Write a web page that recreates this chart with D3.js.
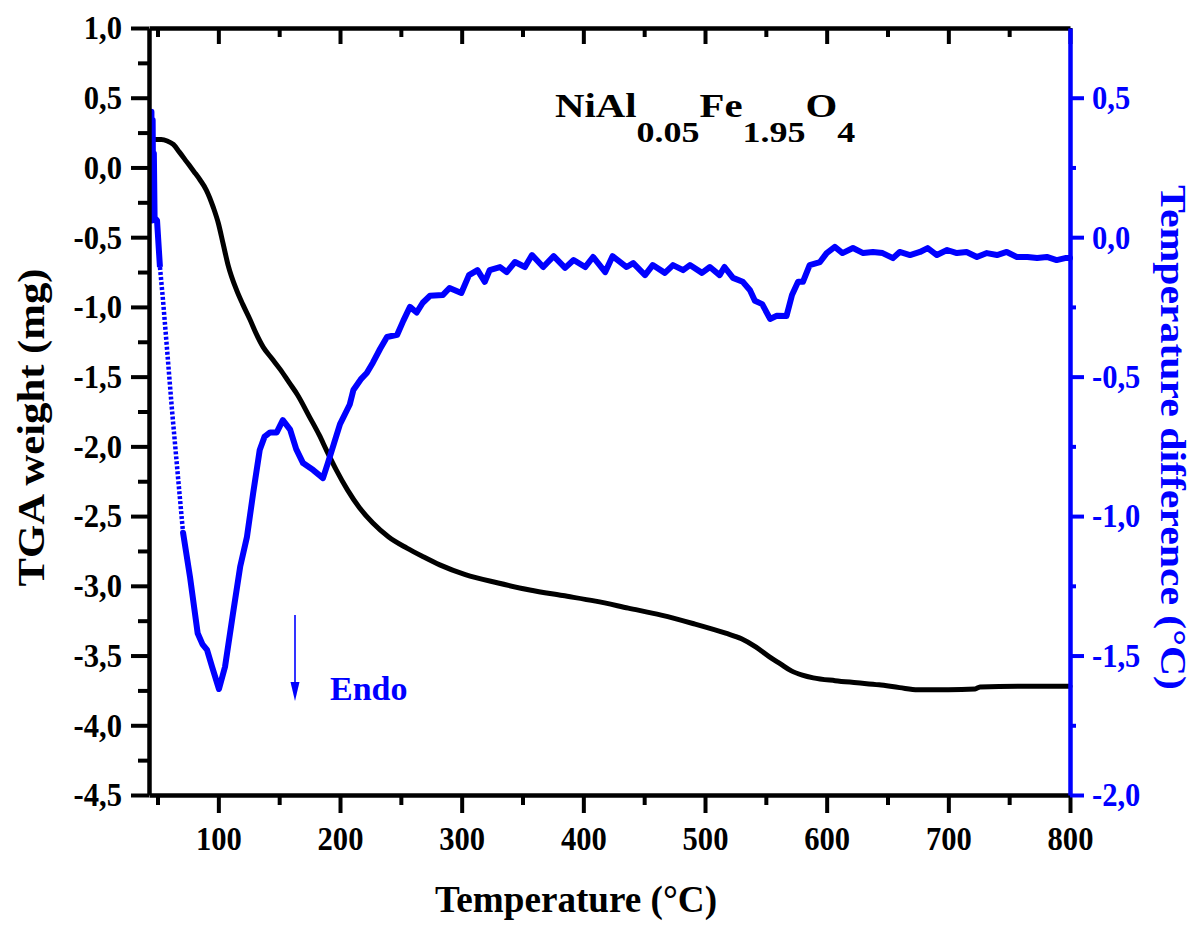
<!DOCTYPE html>
<html><head><meta charset="utf-8">
<script src="https://cdn.jsdelivr.net/npm/d3@7"></script>
<style>body{margin:0;background:#fff} svg{display:block}</style>
</head><body><svg id="c" width="1196" height="925"></svg>
<script>
// ---- data ----
const tgaTemp   = [48,53,58,63,68,74,80,85,90,96,100,104,108,115,120,126,131,137,144,151,158,165,175,183,189,197,206,216,227,240,255,268,282,303,330,356,383,410,437,464,490,517,530,542,553,562,571,580,589,607,625,643,660,675,700,722,726,760,800];
const tgaWeight = [0.20,0.20,0.19,0.165,0.11,0.04,-0.03,-0.09,-0.16,-0.29,-0.40,-0.55,-0.70,-0.88,-0.98,-1.09,-1.19,-1.29,-1.37,-1.45,-1.54,-1.63,-1.79,-1.92,-2.03,-2.17,-2.31,-2.44,-2.55,-2.65,-2.73,-2.79,-2.85,-2.92,-2.98,-3.03,-3.07,-3.11,-3.16,-3.21,-3.27,-3.34,-3.38,-3.44,-3.51,-3.56,-3.61,-3.64,-3.66,-3.68,-3.695,-3.71,-3.73,-3.745,-3.745,-3.74,-3.725,-3.72,-3.72];

const dtaTemp = [44.5,45.0,45.5,46.0,46.5,47.0,47.6,49.6,52,54.5,57.8,61.9,66,71,76.7,83,87,90.7,94.8,100.5,105.5,112,118,123.5,128.6,134,138,142.5,148,153,159,164,169.6,178,186,190,195,200,208,211,217,222,227,233,238.6,247,252,257.5,263,268,274,284.6,290,299.7,306,313,319,323,331.5,337,343.8,352,357.8,367,375.6,385,392,401.5,408,418,424,435.6,441,450.7,457,467,473.7,482,487.6,497.5,504,512,516,523,531,537,541,547,553.5,559,567,571.5,576.5,580.5,586,594.5,600,606.7,613,621.6,630,638,646,654.5,660,668.5,676.7,683,690.6,699,707,715,723.5,731.7,740,748,756.4,765,773,781,789,796,800];
const dtaDiff = [0.12,0.45,0.06,0.42,0.08,0.30,0.07,0.06,-0.107,-0.225,-0.40,-0.62,-0.82,-1.06,-1.218,-1.42,-1.46,-1.48,-1.54,-1.62,-1.54,-1.35,-1.18,-1.075,-0.918,-0.763,-0.715,-0.70,-0.70,-0.656,-0.69,-0.76,-0.81,-0.835,-0.864,-0.81,-0.74,-0.67,-0.60,-0.548,-0.51,-0.487,-0.45,-0.40,-0.358,-0.35,-0.30,-0.25,-0.27,-0.235,-0.21,-0.207,-0.182,-0.20,-0.136,-0.118,-0.16,-0.118,-0.107,-0.125,-0.089,-0.107,-0.064,-0.107,-0.068,-0.11,-0.082,-0.107,-0.071,-0.125,-0.068,-0.107,-0.093,-0.136,-0.10,-0.128,-0.10,-0.118,-0.10,-0.128,-0.107,-0.136,-0.107,-0.146,-0.16,-0.19,-0.228,-0.24,-0.293,-0.282,-0.283,-0.207,-0.16,-0.16,-0.10,-0.089,-0.057,-0.035,-0.057,-0.039,-0.057,-0.053,-0.057,-0.075,-0.053,-0.064,-0.053,-0.039,-0.064,-0.046,-0.057,-0.053,-0.071,-0.057,-0.064,-0.053,-0.071,-0.071,-0.075,-0.071,-0.082,-0.075,-0.075];

const xMajor = [100,200,300,400,500,600,700,800];
const xMinor = [50,150,250,350,450,550,650,750];
const leftMajor = [-4.5,-4.0,-3.5,-3.0,-2.5,-2.0,-1.5,-1.0,-0.5,0.0,0.5,1.0];
const leftMinor = [-4.25,-3.75,-3.25,-2.75,-2.25,-1.75,-1.25,-0.75,-0.25,0.25,0.75];
const rightMajor = [-2.0,-1.5,-1.0,-0.5,0.0,0.5];
const rightMinor = [-1.75,-1.25,-0.75,-0.25,0.25];

const xLabel = "Temperature (°C)";
const leftLabel = "TGA weight (mg)";
const rightLabel = "Temperature difference (°C)";
const endoLabel = "Endo";
const dashedRange = [52, 71]; // sparse-sampled fast drop drawn as dots

// ---- layout ----
const L = 149, R = 1070, T = 28, B = 795;
const BLUE = "#0000ff";
const FONT = "'Liberation Serif','Times New Roman',serif";
const svg = d3.select("#c");

const x = d3.scaleLinear().domain([43, 800]).range([L, R]);
const yL = d3.scaleLinear().domain([-4.5, 1.0]).range([B, T]);
const yR = d3.scaleLinear().domain([-2.0, 0.75]).range([B, T]);

const loc = d3.formatLocale({decimal: ",", thousands: " ", grouping: [3], currency: ["", ""], minus: "-"});
const f1 = loc.format(".1f");

// ---- curves ----
const tga = tgaTemp.map((t, i) => [t, tgaWeight[i]]);
const dta = dtaTemp.map((t, i) => [t, dtaDiff[i]]);

svg.append("path").datum(tga)
  .attr("fill", "none").attr("stroke", "#000").attr("stroke-width", 5)
  .attr("stroke-linejoin", "round").attr("stroke-linecap", "round")
  .attr("d", d3.line().x(d => x(d[0])).y(d => yL(d[1])).curve(d3.curveMonotoneX));

const dtaLine = d3.line().x(d => x(d[0])).y(d => yR(d[1]));
const part1 = dta.filter(d => d[0] <= dashedRange[0]);
const part2 = dta.filter(d => d[0] >= dashedRange[0] && d[0] <= dashedRange[1]);
const part3 = dta.filter(d => d[0] >= dashedRange[1]);
svg.append("path").datum(part1).attr("fill", "none").attr("stroke", BLUE)
  .attr("stroke-width", 6).attr("stroke-linejoin", "round").attr("d", dtaLine);
svg.append("path").datum(part2).attr("fill", "none").attr("stroke", BLUE)
  .attr("stroke-width", 4.5).attr("stroke-dasharray", "3,2").attr("d", dtaLine);
svg.append("path").datum(part3).attr("fill", "none").attr("stroke", BLUE)
  .attr("stroke-width", 6).attr("stroke-linejoin", "round").attr("stroke-linecap", "round").attr("d", dtaLine);

// ---- axes ----
function squeeze(g, k) {
  g.selectAll(".tick text").each(function () {
    const t = d3.select(this);
    const xx = +t.attr("x") || 0;
    t.attr("x", xx / k).attr("transform", `scale(${k},1)`);
  });
}
function style(g, color, w, fs) {
  g.select(".domain").attr("stroke", color).attr("stroke-width", 4.5);
  g.selectAll(".tick line").attr("stroke", color).attr("stroke-width", w);
  g.selectAll(".tick text").attr("fill", color)
    .style("font-family", FONT).style("font-weight", "bold").style("font-size", fs + "px");
}
function minorAxis(axis, tr, color, w) {
  const g = svg.append("g").attr("transform", tr).call(axis);
  g.select(".domain").remove();
  g.selectAll(".tick line").attr("stroke", color).attr("stroke-width", w);
  g.selectAll("text").remove();
  return g;
}

// bottom
minorAxis(d3.axisBottom(x).tickValues(xMinor).tickSize(10).tickSizeOuter(0), `translate(0,${B})`, "#000", 4);
const gB = svg.append("g").attr("transform", `translate(0,${B})`)
  .call(d3.axisBottom(x).tickValues(xMajor).tickSize(18).tickSizeOuter(0).tickPadding(13).tickFormat(d3.format("d")));
style(gB, "#000", 4, 34); squeeze(gB, 0.9);

// top (ticks inward, no labels)
minorAxis(d3.axisBottom(x).tickValues(xMinor).tickSize(9).tickSizeOuter(0), `translate(0,${T})`, "#000", 4);
const gT = svg.append("g").attr("transform", `translate(0,${T})`)
  .call(d3.axisBottom(x).tickValues(xMajor).tickSize(16).tickSizeOuter(0).tickFormat(""));
style(gT, "#000", 4, 34);

// left
minorAxis(d3.axisLeft(yL).tickValues(leftMinor).tickSize(11).tickSizeOuter(0), `translate(${L},0)`, "#000", 4);
const gL = svg.append("g").attr("transform", `translate(${L},0)`)
  .call(d3.axisLeft(yL).tickValues(leftMajor).tickSize(18).tickSizeOuter(0).tickPadding(9).tickFormat(f1));
style(gL, "#000", 4, 34); squeeze(gL, 0.9);

// right
minorAxis(d3.axisRight(yR).tickValues(rightMinor).tickSize(6).tickSizeOuter(0), `translate(${R},0)`, BLUE, 4);
const gR = svg.append("g").attr("transform", `translate(${R},0)`)
  .call(d3.axisRight(yR).tickValues(rightMajor).tickSize(14).tickSizeOuter(0).tickPadding(8).tickFormat(f1));
style(gR, BLUE, 4, 34); squeeze(gR, 0.9);

// ---- titles ----
svg.append("text").attr("x", (435 + 717) / 2).attr("y", 912)
  .attr("text-anchor", "middle").attr("textLength", 282).attr("lengthAdjust", "spacingAndGlyphs")
  .style("font-family", FONT).style("font-weight", "bold").style("font-size", "38px").text(xLabel);

svg.append("text").attr("transform", `translate(44,${(268 + 587) / 2}) rotate(-90)`)
  .attr("text-anchor", "middle").attr("textLength", 318).attr("lengthAdjust", "spacingAndGlyphs")
  .style("font-family", FONT).style("font-weight", "bold").style("font-size", "38px").text(leftLabel);

svg.append("text").attr("transform", `translate(1161,${(185 + 690) / 2}) rotate(90)`)
  .attr("text-anchor", "middle").attr("textLength", 505).attr("lengthAdjust", "spacingAndGlyphs")
  .attr("fill", BLUE)
  .style("font-family", FONT).style("font-weight", "bold").style("font-size", "36px").text(rightLabel);

// formula title
const ttl = svg.append("text").attr("transform", "translate(555,117) scale(1.2,1)")
  .style("font-family", FONT).style("font-weight", "bold");
const parts = [["NiAl", 34, 0], ["0.05", 30, 25], ["Fe", 34, -25], ["1.95", 30, 25], ["O", 34, -25], ["4", 30, 25]];
parts.forEach(p => ttl.append("tspan").attr("dy", p[2]).style("font-size", p[1] + "px").text(p[0]));

// Endo arrow
const ax = 295;
svg.append("line").attr("x1", ax).attr("x2", ax).attr("y1", 615).attr("y2", 690)
  .attr("stroke", BLUE).attr("stroke-width", 1.6);
svg.append("path").attr("d", `M${ax - 4.5},682 L${ax + 4.5},682 L${ax},701 Z`).attr("fill", BLUE);
svg.append("text").attr("x", 330).attr("y", 700).attr("fill", BLUE)
  .style("font-family", FONT).style("font-weight", "bold").style("font-size", "34px").text(endoLabel);
</script>
</body></html>
